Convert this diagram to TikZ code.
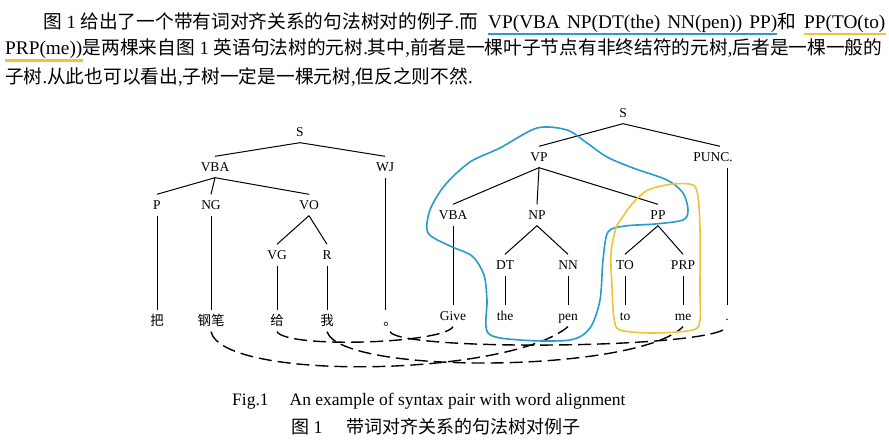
\documentclass[tikz,border=0pt]{standalone}
\usepackage{fontspec}
\setmainfont{Liberation Serif}
\newfontfamily\zh{Noto Sans CJK SC}
\usetikzlibrary{positioning,calc}
\definecolor{markblue}{HTML}{2A9BCB}
\definecolor{markyellow}{HTML}{EEC33A}

\begin{document}
\begin{tikzpicture}[x=1pt,y=-1pt,font=\fontsize{13.5}{16}\selectfont]
  \tikzset{lab/.style={text height=12pt,text depth=3pt,inner xsep=1pt,inner ysep=3pt},
    para/.style={font=\fontsize{18.7}{22}\selectfont,inner sep=0pt,anchor=base west},
    ulword/.style={para,font=\fontsize{19.3}{22}\selectfont,text depth=5.5pt},
    figcap/.style={font=\fontsize{17.5}{21}\selectfont,inner sep=0pt,anchor=base west},
    treeline/.style={line width=1pt},
    link/.style={line width=1.4pt,dash pattern=on 13pt off 6pt},
    handmark/.style={line width=1.6pt},
    uline/.style={line width=2.5pt}}
  \fill[white] (0,0) rectangle (889,446);
  \useasboundingbox (0,0) rectangle (889,446);

  \node[para] (l1) at (43,28.5) {{\zh 图} 1 {\zh 给出了一个带有词对齐关系的句法树对的例子}.{\zh 而}};
  \node[ulword] (ulvp) at (488,28.5) {VP(VBA\hspace{7pt}NP(DT(the)\hspace{7pt}NN(pen))\hspace{7pt}PP)};
  \node[para] (he) at (ulvp.base east) {\zh 和};
  \node[ulword] (ulpp) at (804,28.5) {PP(TO(to)};
  \node[ulword] (ulprp) at (5,55) {PRP(me))};
  \node[para] (l2) at (ulprp.base east) {{\zh 是两棵来自图} 1 {\zh 英语句法树的元树}.{\zh 其中},{\zh 前者是一棵叶子节点有非终结符的元树},{\zh 后者是一棵一般的}};
  \node[para] (l3) at (5,83.5) {{\zh 子树}.{\zh 从此也可以看出},{\zh 子树一定是一棵元树},{\zh 但反之则不然}.};
  \draw[uline,markblue] (ulvp.south west) -- (ulvp.south east);
  \draw[uline,markyellow] (ulpp.south west) -- (ulpp.south east);
  \draw[uline,markyellow] (ulprp.south west) -- (ulprp.south east);

  % Chinese tree
  \node[lab] (ls) at (300,132) {S};
  \node[lab] (lvba) at (215,167) {VBA};
  \node[lab] (wj) at (385,167) {WJ};
  \node[lab] (p) at (157,205) {P};
  \node[lab] (ng) at (211,205) {NG};
  \node[lab] (vo) at (309,205) {VO};
  \node[lab] (vg) at (277,255) {VG};
  \node[lab] (r) at (327,255) {R};
  \node[lab] (ba) at (157,321) {\zh 把};
  \node[lab] (gangbi) at (211,321) {\zh 钢笔};
  \node[lab] (gei) at (277,321) {\zh 给};
  \node[lab] (wo) at (327,321) {\zh 我};
  \node[lab] (juhao) at (390,321) {\zh 。};

  % English tree
  \node[lab] (rs) at (623,113) {S};
  \node[lab] (vp) at (539,157) {VP};
  \node[lab] (punc) at (713,157) {PUNC.};
  \node[lab] (rvba) at (453,215) {VBA};
  \node[lab] (np) at (537,215) {NP};
  \node[lab] (pp) at (658,215) {PP};
  \node[lab] (dt) at (505,265) {DT};
  \node[lab] (nn) at (568,265) {NN};
  \node[lab] (tto) at (625,265) {TO};
  \node[lab] (prp) at (683,265) {PRP};
  \node[lab] (give) at (453,316) {Give};
  \node[lab] (the) at (505,316) {the};
  \node[lab] (pen) at (568,316) {pen};
  \node[lab] (to) at (625,316) {to};
  \node[lab] (me) at (683,316) {me};
  \node[lab] (dot) at (727,316) {.};

  \foreach \a/\b in {ls/lvba,ls/wj,lvba/p,lvba/ng,lvba/vo,vo/vg,vo/r,p/ba,ng/gangbi,vg/gei,r/wo,
      rs/vp,vp/rvba,vp/np,vp/pp,np/dt,np/nn,pp/tto,pp/prp,rvba/give,dt/the,nn/pen,tto/to,prp/me}
    \draw[treeline] (\a.south) -- (\b.north);
  \draw[treeline] (wj.south) -- (wj.south |- juhao.north);
  \draw[treeline] (rs.south) -- ([xshift=7pt]punc.north);
  \draw[treeline] (dot.north |- punc.south) -- (dot.north);

  % word alignment
  \draw[link] (gangbi.south) .. controls +(12,50) and +(-60,50) .. (pen.south);
  \draw[link] (gei.south) .. controls +(10,17) and +(-10,17) .. (give.south);
  \draw[link] (wo.south) .. controls +(15,44) and +(-45,46) .. (me.south);
  \draw[link] (juhao.south) .. controls +(10,20) and +(-10,22) .. (dot.south);

  % hand-drawn marks
  \draw[handmark,markblue] plot[smooth cycle] coordinates {(537,128) (500,148) (470,162) (445,185) (430,210)
    (428,233) (450,246) (472,256) (484,275) (487,300) (488,333) (520,340) (570,340) (590,328) (600,300)
    (603,260) (608,232) (625,226) (655,224) (683,220) (688,210) (683,193) (667,180) (633,168) (607,157)
    (587,143) (567,130)};
  \draw[handmark,markyellow] plot[smooth cycle] coordinates {(673,184) (693,185) (698,197) (700,230) (700,290)
    (700,320) (693,330) (653,333) (620,330) (614,318) (612,287) (611,253) (616,228) (622,218) (632,204)
    (648,190)};

  \node[figcap] (fig) at (232,405) {Fig.1\hspace{1.2em}An example of syntax pair with word alignment};
  \node[figcap,font=\fontsize{18}{21}\selectfont] (figzh) at (291,433) {{\zh 图} 1\hspace{1.3em}{\zh 带词对齐关系的句法树对例子}};
\end{tikzpicture}
\end{document}
